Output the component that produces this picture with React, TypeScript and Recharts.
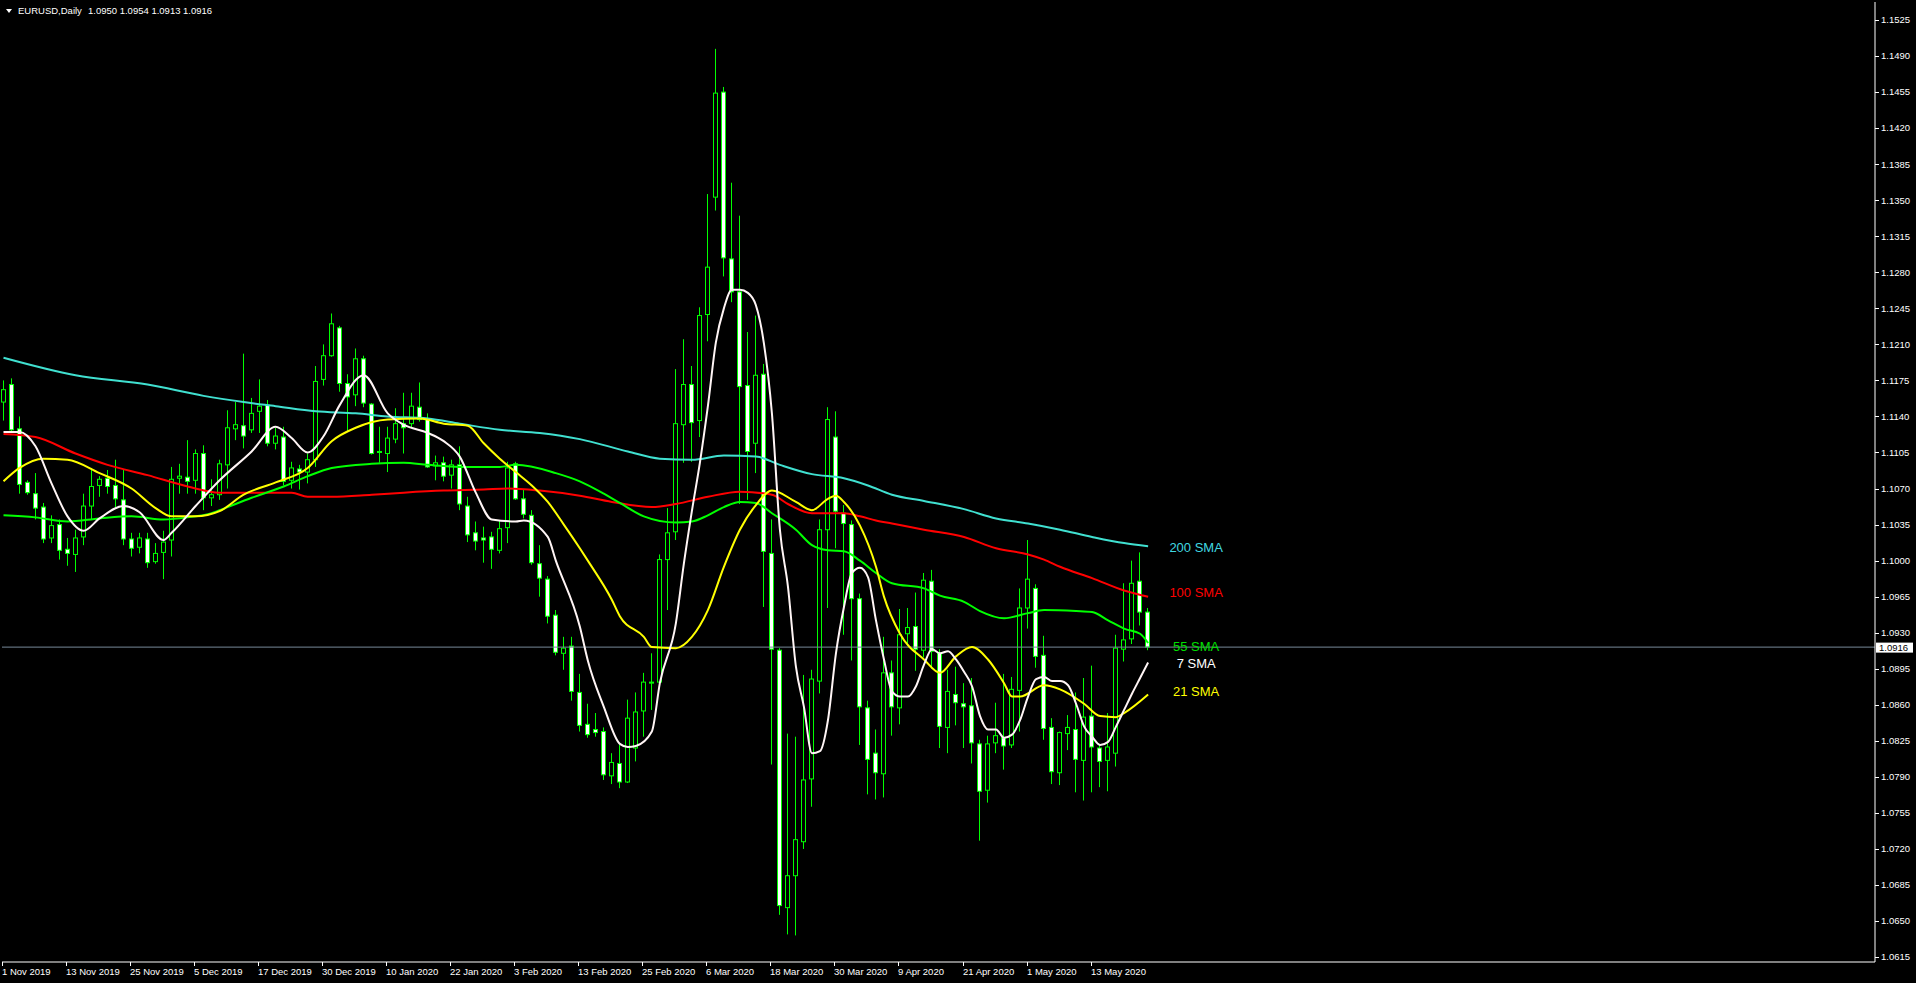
import { ComposedChart, Bar, Line, XAxis, YAxis, ReferenceLine, ReferenceDot } from "recharts";

// EURUSD daily bars, 1 Nov 2019 .. 22 May 2020 as [open, high, low, close]
const candles: [number, number, number, number][] = [
  [1.1154, 1.1175, 1.1136, 1.1166], [1.1171, 1.1177, 1.1125, 1.1127], [1.1128, 1.1140, 1.1065, 1.1074],
  [1.1076, 1.1078, 1.1064, 1.1066], [1.1065, 1.1085, 1.1040, 1.1051], [1.1052, 1.1056, 1.1017, 1.1021],
  [1.1022, 1.1044, 1.1017, 1.1034], [1.1035, 1.1040, 1.1001, 1.1010], [1.1011, 1.1022, 1.0995, 1.1007],
  [1.1006, 1.1030, 1.0989, 1.1022], [1.1023, 1.1065, 1.1015, 1.1053], [1.1053, 1.1090, 1.1040, 1.1072],
  [1.1073, 1.1082, 1.1062, 1.1079], [1.1080, 1.1088, 1.1065, 1.1072], [1.1073, 1.1098, 1.1052, 1.1060],
  [1.1059, 1.1088, 1.1015, 1.1021], [1.1021, 1.1027, 1.1004, 1.1012], [1.1013, 1.1027, 1.1007, 1.1022],
  [1.1021, 1.1027, 1.0993, 1.0998], [1.0999, 1.1017, 1.0997, 1.1007], [1.1008, 1.1029, 1.0982, 1.1018],
  [1.1020, 1.1091, 1.1004, 1.1079], [1.1080, 1.1094, 1.1065, 1.1082], [1.1081, 1.1117, 1.1065, 1.1077],
  [1.1078, 1.1108, 1.1065, 1.1104], [1.1104, 1.1112, 1.1049, 1.1061], [1.1061, 1.1079, 1.1053, 1.1064],
  [1.1064, 1.1098, 1.1059, 1.1094], [1.1093, 1.1146, 1.1070, 1.1129], [1.1128, 1.1154, 1.1117, 1.1132],
  [1.1131, 1.1201, 1.1109, 1.1121], [1.1127, 1.1158, 1.1124, 1.1143], [1.1145, 1.1176, 1.1124, 1.1150],
  [1.1151, 1.1156, 1.1111, 1.1114], [1.1114, 1.1129, 1.1108, 1.1121], [1.1120, 1.1130, 1.1073, 1.1077],
  [1.1078, 1.1096, 1.1070, 1.1090], [1.1089, 1.1093, 1.1069, 1.1086], [1.1086, 1.1104, 1.1075, 1.1098],
  [1.1098, 1.1189, 1.1091, 1.1174], [1.1176, 1.1210, 1.1170, 1.1199], [1.1199, 1.1240, 1.1198, 1.1230],
  [1.1226, 1.1228, 1.1164, 1.1172], [1.1172, 1.1181, 1.1125, 1.1159], [1.1161, 1.1206, 1.1150, 1.1196],
  [1.1196, 1.1199, 1.1149, 1.1153], [1.1152, 1.1153, 1.1103, 1.1104], [1.1105, 1.1130, 1.1095, 1.1106],
  [1.1104, 1.1130, 1.1086, 1.1119], [1.1118, 1.1148, 1.1114, 1.1133], [1.1133, 1.1163, 1.1104, 1.1129],
  [1.1133, 1.1163, 1.1129, 1.1150], [1.1149, 1.1173, 1.1135, 1.1137], [1.1138, 1.1143, 1.1090, 1.1091],
  [1.1092, 1.1102, 1.1078, 1.1095], [1.1095, 1.1101, 1.1077, 1.1082], [1.1083, 1.1098, 1.1070, 1.1093],
  [1.1093, 1.1111, 1.1049, 1.1055], [1.1053, 1.1062, 1.1018, 1.1025], [1.1027, 1.1038, 1.1010, 1.1019],
  [1.1022, 1.1033, 1.0998, 1.1020], [1.1023, 1.1028, 1.0992, 1.1011], [1.1010, 1.1039, 1.1007, 1.1031],
  [1.1032, 1.1096, 1.1017, 1.1090], [1.1094, 1.1096, 1.1059, 1.1060], [1.1060, 1.1069, 1.1041, 1.1045],
  [1.1044, 1.1049, 1.0996, 1.0998], [1.0997, 1.1015, 1.0965, 1.0983], [1.0982, 1.0985, 1.0939, 1.0946],
  [1.0947, 1.0952, 1.0908, 1.0911], [1.0910, 1.0926, 1.0894, 1.0915], [1.0917, 1.0926, 1.0864, 1.0873],
  [1.0872, 1.0890, 1.0834, 1.0840], [1.0841, 1.0861, 1.0828, 1.0831], [1.0836, 1.0852, 1.0829, 1.0833],
  [1.0834, 1.0838, 1.0787, 1.0792], [1.0791, 1.0813, 1.0783, 1.0804], [1.0803, 1.0821, 1.0779, 1.0785],
  [1.0785, 1.0865, 1.0784, 1.0847], [1.0818, 1.0872, 1.0805, 1.0853], [1.0854, 1.0891, 1.0829, 1.0882],
  [1.0881, 1.0910, 1.0855, 1.0882], [1.0882, 1.1006, 1.0880, 1.1001], [1.1001, 1.1051, 1.0952, 1.1027],
  [1.1028, 1.1186, 1.1020, 1.1133], [1.1132, 1.1215, 1.1095, 1.1171], [1.1171, 1.1189, 1.1096, 1.1134],
  [1.1136, 1.1246, 1.1120, 1.1238], [1.1239, 1.1356, 1.1213, 1.1285], [1.1353, 1.1497, 1.1340, 1.1454],
  [1.1455, 1.1460, 1.1276, 1.1294], [1.1293, 1.1367, 1.1251, 1.1261], [1.1261, 1.1335, 1.1055, 1.1169],
  [1.1170, 1.1222, 1.1059, 1.1106], [1.1114, 1.1238, 1.1085, 1.1180], [1.1181, 1.1191, 1.0955, 1.1009],
  [1.1007, 1.1040, 1.0802, 1.0914], [1.0913, 1.0915, 1.0656, 1.0665], [1.0663, 1.0832, 1.0637, 1.0694],
  [1.0694, 1.0829, 1.0636, 1.0729], [1.0727, 1.0889, 1.0720, 1.0787], [1.0788, 1.0894, 1.0761, 1.0885],
  [1.0883, 1.1040, 1.0871, 1.1030], [1.1030, 1.1149, 1.0954, 1.1137], [1.1120, 1.1145, 1.1012, 1.1048],
  [1.1046, 1.1054, 1.0928, 1.1036], [1.1035, 1.1039, 1.0903, 1.0963], [1.0963, 1.0968, 1.0821, 1.0858],
  [1.0857, 1.0864, 1.0773, 1.0807], [1.0813, 1.0836, 1.0768, 1.0794], [1.0793, 1.0926, 1.0770, 1.0891],
  [1.0891, 1.0903, 1.0830, 1.0858], [1.0857, 1.0953, 1.0841, 1.0928], [1.0929, 1.0954, 1.0920, 1.0935],
  [1.0936, 1.0969, 1.0893, 1.0914], [1.0913, 1.0988, 1.0906, 1.0981], [1.0980, 1.0991, 1.0895, 1.0912],
  [1.0910, 1.0914, 1.0818, 1.0839], [1.0838, 1.0894, 1.0813, 1.0873], [1.0870, 1.0897, 1.0840, 1.0862],
  [1.0861, 1.0881, 1.0818, 1.0858], [1.0859, 1.0886, 1.0803, 1.0823], [1.0822, 1.0826, 1.0728, 1.0776],
  [1.0777, 1.0830, 1.0765, 1.0822], [1.0823, 1.0862, 1.0813, 1.0830], [1.0828, 1.0890, 1.0797, 1.0820],
  [1.0821, 1.0887, 1.0818, 1.0875], [1.0874, 1.0973, 1.0834, 1.0954], [1.0954, 1.1020, 1.0934, 1.0982],
  [1.0973, 1.0977, 1.0896, 1.0907], [1.0908, 1.0927, 1.0826, 1.0837], [1.0838, 1.0847, 1.0783, 1.0795],
  [1.0794, 1.0834, 1.0782, 1.0833], [1.0832, 1.0850, 1.0816, 1.0838], [1.0836, 1.0872, 1.0775, 1.0807],
  [1.0806, 1.0886, 1.0767, 1.0848], [1.0849, 1.0898, 1.0775, 1.0819], [1.0818, 1.0821, 1.0780, 1.0805],
  [1.0806, 1.0852, 1.0776, 1.0819], [1.0813, 1.0928, 1.0800, 1.0915], [1.0914, 1.0978, 1.0902, 1.0923],
  [1.0924, 1.1000, 1.0919, 1.0978], [1.0980, 1.1008, 1.0937, 1.0950], [1.0950, 1.0954, 1.0913, 1.0916],
];

const dateLabels = [
  "1 Nov 2019", "13 Nov 2019", "25 Nov 2019", "5 Dec 2019", "17 Dec 2019", "30 Dec 2019",
  "10 Jan 2020", "22 Jan 2020", "3 Feb 2020", "13 Feb 2020", "25 Feb 2020", "6 Mar 2020",
  "18 Mar 2020", "30 Mar 2020", "9 Apr 2020", "21 Apr 2020", "1 May 2020", "13 May 2020",
];
const labelBars = [0, 8, 16, 24, 32, 40, 48, 56, 64, 72, 80, 88, 96, 104, 112, 120, 128, 136];

const priceTicks = [
  1.0615, 1.065, 1.0685, 1.072, 1.0755, 1.079, 1.0825, 1.086, 1.0895, 1.093, 1.0965, 1.1, 1.1035, 1.107,
  1.1105, 1.114, 1.1175, 1.121, 1.1245, 1.128, 1.1315, 1.135, 1.1385, 1.142, 1.1455, 1.149, 1.1525,
];

// moving averages: [bar index, value]
const sma200: [number, number][] = [
  [0, 1.1197], [9, 1.118], [18, 1.1171], [25, 1.116], [30, 1.1154], [34, 1.115], [39, 1.1145], [44, 1.1143],
  [48, 1.114], [53, 1.1138], [57, 1.1133], [62, 1.1127], [67, 1.1124], [72, 1.1118], [78, 1.1106], [82, 1.1099],
  [86, 1.1098], [90, 1.1102], [94, 1.1101], [97, 1.1093], [101, 1.1084], [105, 1.108], [108, 1.1073],
  [111, 1.1064], [115, 1.1058], [120, 1.105], [124, 1.1041], [128, 1.1036], [132, 1.103], [136, 1.1023],
  [140, 1.1017], [143, 1.1014],
];
const sma100: [number, number][] = [
  [0, 1.1123], [4, 1.112], [9, 1.1104], [13, 1.1093], [18, 1.1083], [23, 1.1072], [27, 1.1066], [32, 1.1066],
  [36, 1.1066], [38, 1.1062], [41, 1.1062], [46, 1.1064], [50, 1.1066], [55, 1.1068], [60, 1.1069], [63, 1.107],
  [67, 1.1068], [72, 1.1063], [76, 1.1057], [81, 1.1052], [84, 1.1055], [88, 1.1062], [92, 1.1067], [96, 1.1064],
  [98, 1.1055], [101, 1.1046], [105, 1.1046], [107, 1.1043], [109, 1.1039], [111, 1.1036], [115, 1.103],
  [120, 1.1023], [124, 1.1012], [128, 1.1006], [130, 1.1001], [132, 1.0994], [136, 1.0983], [140, 1.0971],
  [143, 1.0965],
];
const sma55: [number, number][] = [
  [0, 1.1044], [4, 1.1042], [8, 1.1038], [12, 1.1041], [16, 1.1043], [20, 1.104], [23, 1.1042], [26, 1.1046],
  [28, 1.1052], [31, 1.1061], [35, 1.1072], [38, 1.1082], [41, 1.109], [46, 1.1094], [50, 1.1095], [53, 1.1093],
  [57, 1.1091], [62, 1.1091], [64, 1.1093], [69, 1.1085], [72, 1.1077], [75, 1.1065], [77, 1.1056], [80, 1.1043],
  [84, 1.1037], [86, 1.1038], [88, 1.1044], [90, 1.1052], [92, 1.1057], [94, 1.1056], [96, 1.1046], [99, 1.103],
  [101, 1.1015], [103, 1.101], [105, 1.1009], [107, 1.1], [109, 1.0988], [111, 1.0978], [115, 1.0973],
  [117, 1.0966], [120, 1.096], [122, 1.0951], [125, 1.0944], [128, 1.0949], [130, 1.0952], [134, 1.0951],
  [136, 1.095], [138, 1.0942], [140, 1.0934], [142, 1.0929], [143, 1.092],
];
const sma21: [number, number][] = [
  [0, 1.1077], [2, 1.109], [5, 1.1099], [8, 1.1098], [12, 1.1085], [16, 1.107], [19, 1.1051], [21, 1.1043],
  [24, 1.1043], [27, 1.1048], [30, 1.1064], [34, 1.1076], [38, 1.109], [41, 1.1116], [44, 1.1129], [48, 1.1137],
  [52, 1.1138], [55, 1.1133], [58, 1.1131], [60, 1.1114], [62, 1.1099], [64, 1.1086], [66, 1.1073], [68, 1.1057],
  [70, 1.1035], [72, 1.1012], [73, 1.1], [76, 1.0962], [77, 1.0946], [80, 1.0926], [81, 1.0916], [84, 1.0915],
  [86, 1.0926], [88, 1.0952], [90, 1.0994], [92, 1.103], [94, 1.1054], [96, 1.1068], [99, 1.1057], [101, 1.1049],
  [103, 1.106], [104, 1.1063], [105, 1.1057], [107, 1.1034], [109, 1.0994], [110, 1.0965], [112, 1.0929],
  [115, 1.0904], [117, 1.0891], [119, 1.0907], [121, 1.0916], [123, 1.0904], [125, 1.0881], [126, 1.0868],
  [127, 1.0868], [130, 1.0879], [132, 1.0875], [135, 1.0861], [137, 1.0849], [139, 1.0848], [140, 1.0852],
  [143, 1.087],
];
const sma7: [number, number][] = [
  [0, 1.1125], [2, 1.1125], [4, 1.1111], [6, 1.1075], [8, 1.1043], [10, 1.1029], [12, 1.1041], [15, 1.1053],
  [17, 1.1047], [20, 1.102], [21, 1.1027], [24, 1.1053], [27, 1.1078], [31, 1.1106], [34, 1.113], [36, 1.1119],
  [38, 1.1105], [40, 1.1121], [42, 1.1151], [45, 1.118], [48, 1.1143], [50, 1.1132], [53, 1.1124], [55, 1.1116],
  [57, 1.1101], [59, 1.1066], [61, 1.104], [64, 1.1038], [65, 1.1039], [68, 1.1023], [69, 1.1], [72, 1.0936],
  [73, 1.0903], [75, 1.0858], [77, 1.0822], [78, 1.0819], [79, 1.082], [81, 1.0834], [82, 1.0881], [84, 1.0939],
  [85, 1.0997], [86, 1.1048], [87, 1.1095], [88, 1.115], [89, 1.1212], [90, 1.1245], [91, 1.1263], [92, 1.1263],
  [93, 1.126], [94, 1.1248], [95, 1.1211], [96, 1.1143], [97, 1.103], [98, 1.0975], [99, 1.0897], [100, 1.0858],
  [101, 1.0813], [102, 1.0815], [103, 1.0845], [104, 1.091], [105, 1.0955], [106, 1.0988], [107, 1.0993],
  [108, 1.0984], [109, 1.0942], [110, 1.0904], [111, 1.0873], [112, 1.0868], [113, 1.0868], [114, 1.0878],
  [115, 1.0899], [116, 1.0914], [117, 1.091], [118, 1.0912], [119, 1.0904], [120, 1.0892], [121, 1.0878],
  [122, 1.0849], [123, 1.0836], [124, 1.0836], [125, 1.0828], [126, 1.0831], [127, 1.0845], [128, 1.0868],
  [129, 1.0885], [130, 1.0887], [131, 1.0883], [132, 1.0883], [133, 1.0879], [134, 1.0861], [135, 1.0839],
  [136, 1.0829], [137, 1.0821], [138, 1.0824], [139, 1.0839], [140, 1.0855], [141, 1.0871], [142, 1.0886],
  [143, 1.0901],
];

const smaNames = ["200 SMA", "100 SMA", "55 SMA", "7 SMA", "21 SMA"];
const smaTagPrices = [1.1013, 1.0969, 1.0917, 1.09, 1.0873];

const SLOTS = 234; // bar slots across the plot, chart is shifted left
const TAG_BAR = 149;
const FONT = "'Liberation Sans', Arial, sans-serif";
const WICK = "#00ff00";
const smaColors: Record<string, string> = {
  sma200: "#40e0d0",
  sma100: "#ff0000",
  sma55: "#00ff00",
  sma21: "#ffff00",
  sma7: "#fff5f5",
};
const tagColors = ["#40d8e0", "#ff0000", "#00e000", "#ffffff", "#ffff00"];

const rows: any[] = Array.from({ length: SLOTS }, (_, i) => ({ i }));
candles.forEach(([o, h, l, c], i) => Object.assign(rows[i], { o, h, l, c, range: [l, h] }));
const attach = (key: string, pts: [number, number][]) => pts.forEach(([i, v]) => (rows[i][key] = v));
attach("sma200", sma200);
attach("sma100", sma100);
attach("sma55", sma55);
attach("sma21", sma21);
attach("sma7", sma7);

const last = candles[candles.length - 1];

function Candle(props: any) {
  const { x, y, width, height, payload } = props;
  if (!payload || payload.h == null || !isFinite(y) || !isFinite(height)) return <g />;
  const { o, h, l, c } = payload;
  const py = (p: number) => y + ((h - p) / (h - l)) * height;
  const cx = Math.floor(x + width / 2) - 0.5;
  const top = py(Math.max(o, c));
  const bot = py(Math.min(o, c));
  return (
    <g>
      <line x1={cx} x2={cx} y1={y} y2={y + height} stroke={WICK} strokeWidth={1} />
      <rect
        x={cx - 2}
        y={top}
        width={4}
        height={Math.max(bot - top, 1)}
        fill={c >= o ? "#000" : "#fff"}
        stroke={WICK}
        strokeWidth={1}
      />
    </g>
  );
}

function PriceTick({ x, y, payload }: any) {
  return (
    <g>
      <line x1={x} x2={x + 4} y1={Math.round(y) + 0.5} y2={Math.round(y) + 0.5} stroke="#fff" />
      <text x={x + 6} y={y} dy="0.35em" fill="#fff" fontSize={9.5} fontFamily={FONT}>
        {Number(payload.value).toFixed(4)}
      </text>
    </g>
  );
}

function DateTick({ x, y, payload }: any) {
  const k = labelBars.indexOf(payload.value);
  if (k < 0) return <g />;
  const tx = Math.floor(x) - 0.5;
  return (
    <g>
      <line x1={tx} x2={tx} y1={y} y2={y + 4} stroke="#fff" />
      <text x={tx - 0.5} y={y + 10} dy="0.35em" fill="#fff" fontSize={9.5} fontFamily={FONT}>
        {dateLabels[k]}
      </text>
    </g>
  );
}

function BidTag({ viewBox }: any) {
  if (!viewBox) return null;
  const bx = viewBox.x + viewBox.width + 1;
  return (
    <g>
      <rect x={bx} y={viewBox.y - 4.5} width={37} height={10} fill="#fff" />
      <text x={bx + 3} y={viewBox.y + 0.5} dy="0.35em" fill="#000" fontSize={9.5} fontFamily={FONT}>
        {last[3].toFixed(4)}
      </text>
    </g>
  );
}

export default function App() {
  return (
    <div style={{ position: "relative", width: 1916, height: 983, background: "#000" }}>
      <style>{"body{margin:0;background:#000;}"}</style>
      <ComposedChart width={1916} height={983} data={rows} margin={{ top: 2, right: 0, bottom: 0, left: 2 }}>
        <XAxis
          dataKey="i"
          type="category"
          height={21}
          ticks={labelBars}
          interval={0}
          tickSize={0}
          tickMargin={0}
          tickLine={false}
          axisLine={{ stroke: "#fff" }}
          tick={<DateTick />}
          padding={{ left: -2.5, right: 2.5 }}
        />
        <XAxis
          xAxisId="top"
          orientation="top"
          dataKey="i"
          height={0}
          tick={false}
          tickLine={false}
          axisLine={{ stroke: "#fff" }}
          padding={{ left: -2.5, right: 2.5 }}
        />
        <YAxis
          orientation="right"
          type="number"
          domain={[1.06102, 1.15425]}
          allowDataOverflow
          ticks={priceTicks}
          interval={0}
          width={41}
          tickSize={0}
          tickMargin={0}
          tickLine={false}
          axisLine={{ stroke: "#fff" }}
          tick={<PriceTick />}
        />
        <YAxis yAxisId="frame" orientation="left" width={0} tick={false} tickLine={false} axisLine={{ stroke: "#fff" }} />
        <ReferenceLine y={last[3]} stroke="#778899" strokeWidth={1} label={<BidTag />} />
        <Bar dataKey="range" barSize={5} shape={(p: any) => <Candle {...p} />} isAnimationActive={false} />
        {Object.keys(smaColors).map((key) => (
          <Line
            key={key}
            dataKey={key}
            type="monotone"
            stroke={smaColors[key]}
            strokeWidth={2}
            dot={false}
            activeDot={false}
            connectNulls
            isAnimationActive={false}
          />
        ))}
        {smaNames.map((name, k) => (
          <ReferenceDot
            key={name}
            x={TAG_BAR}
            y={smaTagPrices[k]}
            r={1}
            fill="none"
            stroke="none"
            label={{ value: name, position: "center", fill: tagColors[k], fontSize: 13, fontFamily: FONT }}
          />
        ))}
      </ComposedChart>
      <svg width={260} height={20} style={{ position: "absolute", left: 0, top: 0 }}>
        <polygon points="6,9 12,9 9,13" fill="#fff" />
        <text x={18} y={11} dy="0.35em" fill="#fff" fontSize={9.5} fontFamily={FONT}>
          EURUSD,Daily
        </text>
        <text x={88} y={11} dy="0.35em" fill="#fff" fontSize={9.5} fontFamily={FONT}>
          {last.map((v) => v.toFixed(4)).join(" ")}
        </text>
      </svg>
    </div>
  );
}
